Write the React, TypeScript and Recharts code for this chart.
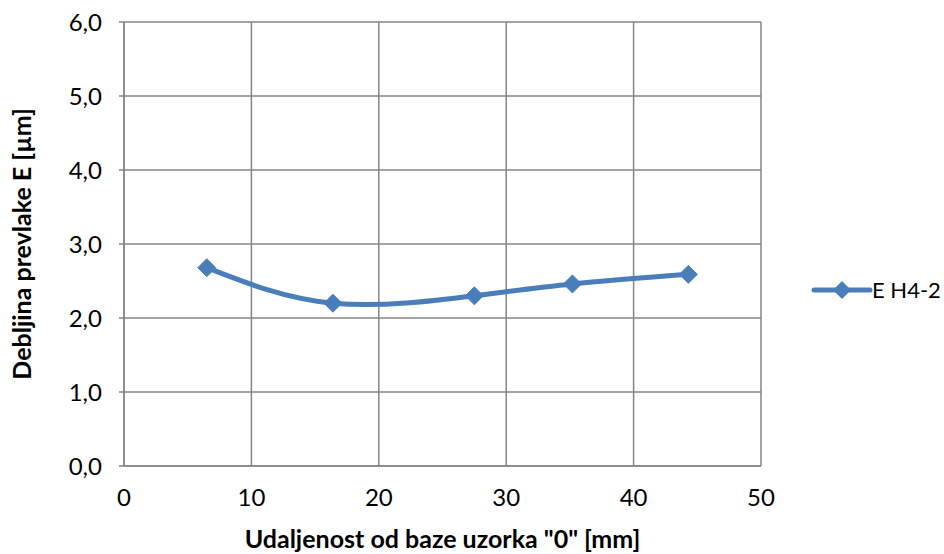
import { LineChart, Line, XAxis, YAxis, CartesianGrid, Label } from 'recharts';

const seriesName = 'E H4-2';
const distances = [6.5, 16.4, 27.5, 35.2, 44.3];
const thickness = [2.68, 2.2, 2.3, 2.46, 2.59];
const xTicks = [0, 10, 20, 30, 40, 50];
const yTicks = [0, 1, 2, 3, 4, 5, 6];

const data = distances.map((x, i) => ({ x, y: thickness[i] }));

const COLOR = '#4A7EBB';
const GRID = '#868686';
const FONT = 'Lato, "Open Sans", sans-serif';

const Diamond = (props: any) => {
  const { cx, cy } = props;
  if (cx == null || cy == null) return null;
  const r = 9;
  return (
    <path
      d={`M${cx},${cy - r} L${cx + r},${cy} L${cx},${cy + r} L${cx - r},${cy} Z`}
      fill={COLOR}
      stroke={COLOR}
      strokeWidth={1}
      strokeLinejoin="round"
    />
  );
};

// legend drawn by hand, recharts' Legend eats into the plot width
const LegendBox = () => (
  <svg width={134} height={30} style={{ position: 'absolute', left: 808, top: 275 }}>
    <line x1={6} y1={15} x2={62} y2={15} stroke={COLOR} strokeWidth={5} strokeLinecap="round" />
    <path d="M34,6 L43,15 L34,24 L25,15 Z" fill={COLOR} />
    <text x={64} y={23} fontSize={22} fontFamily={FONT} fill="#000">
      {seriesName}
    </text>
  </svg>
);

export default function App() {
  return (
    <div style={{ position: 'absolute', left: 0, top: 0, width: 944, height: 554, background: '#fff' }}>
      <LineChart width={944} height={554} data={data} margin={{ top: 22, right: 183, left: 0, bottom: 0 }}>
        <CartesianGrid stroke={GRID} strokeWidth={1.5} />
        <XAxis
          dataKey="x"
          type="number"
          domain={[0, 50]}
          ticks={xTicks}
          height={88}
          tickSize={0}
          tickMargin={23}
          axisLine={{ stroke: GRID, strokeWidth: 1.5 }}
          tick={{ fill: '#000', fontSize: 24, fontFamily: FONT }}
        >
          <Label
            value='Udaljenost od baze uzorka "0" [mm]'
            position="insideBottom"
            offset={6}
            style={{ fontSize: 25, fontWeight: 700, fontFamily: FONT, fill: '#000' }}
          />
        </XAxis>
        <YAxis
          type="number"
          domain={[0, 6]}
          ticks={yTicks}
          width={124}
          tickSize={5}
          tickMargin={17}
          tickLine={{ stroke: GRID, strokeWidth: 1.5 }}
          axisLine={{ stroke: GRID, strokeWidth: 1.5 }}
          tickFormatter={(v: number) => v.toFixed(1).replace('.', ',')}
          tick={{ fill: '#000', fontSize: 24, fontFamily: FONT }}
        >
          <Label
            value="Debljina prevlake E [µm]"
            angle={-90}
            position="insideLeft"
            offset={22}
            style={{ textAnchor: 'middle', fontSize: 25, fontWeight: 700, fontFamily: FONT, fill: '#000' }}
          />
        </YAxis>
        <Line
          type="natural"
          dataKey="y"
          name={seriesName}
          stroke={COLOR}
          strokeWidth={5}
          dot={<Diamond />}
          activeDot={false}
          isAnimationActive={false}
        />
      </LineChart>
      <LegendBox />
    </div>
  );
}
